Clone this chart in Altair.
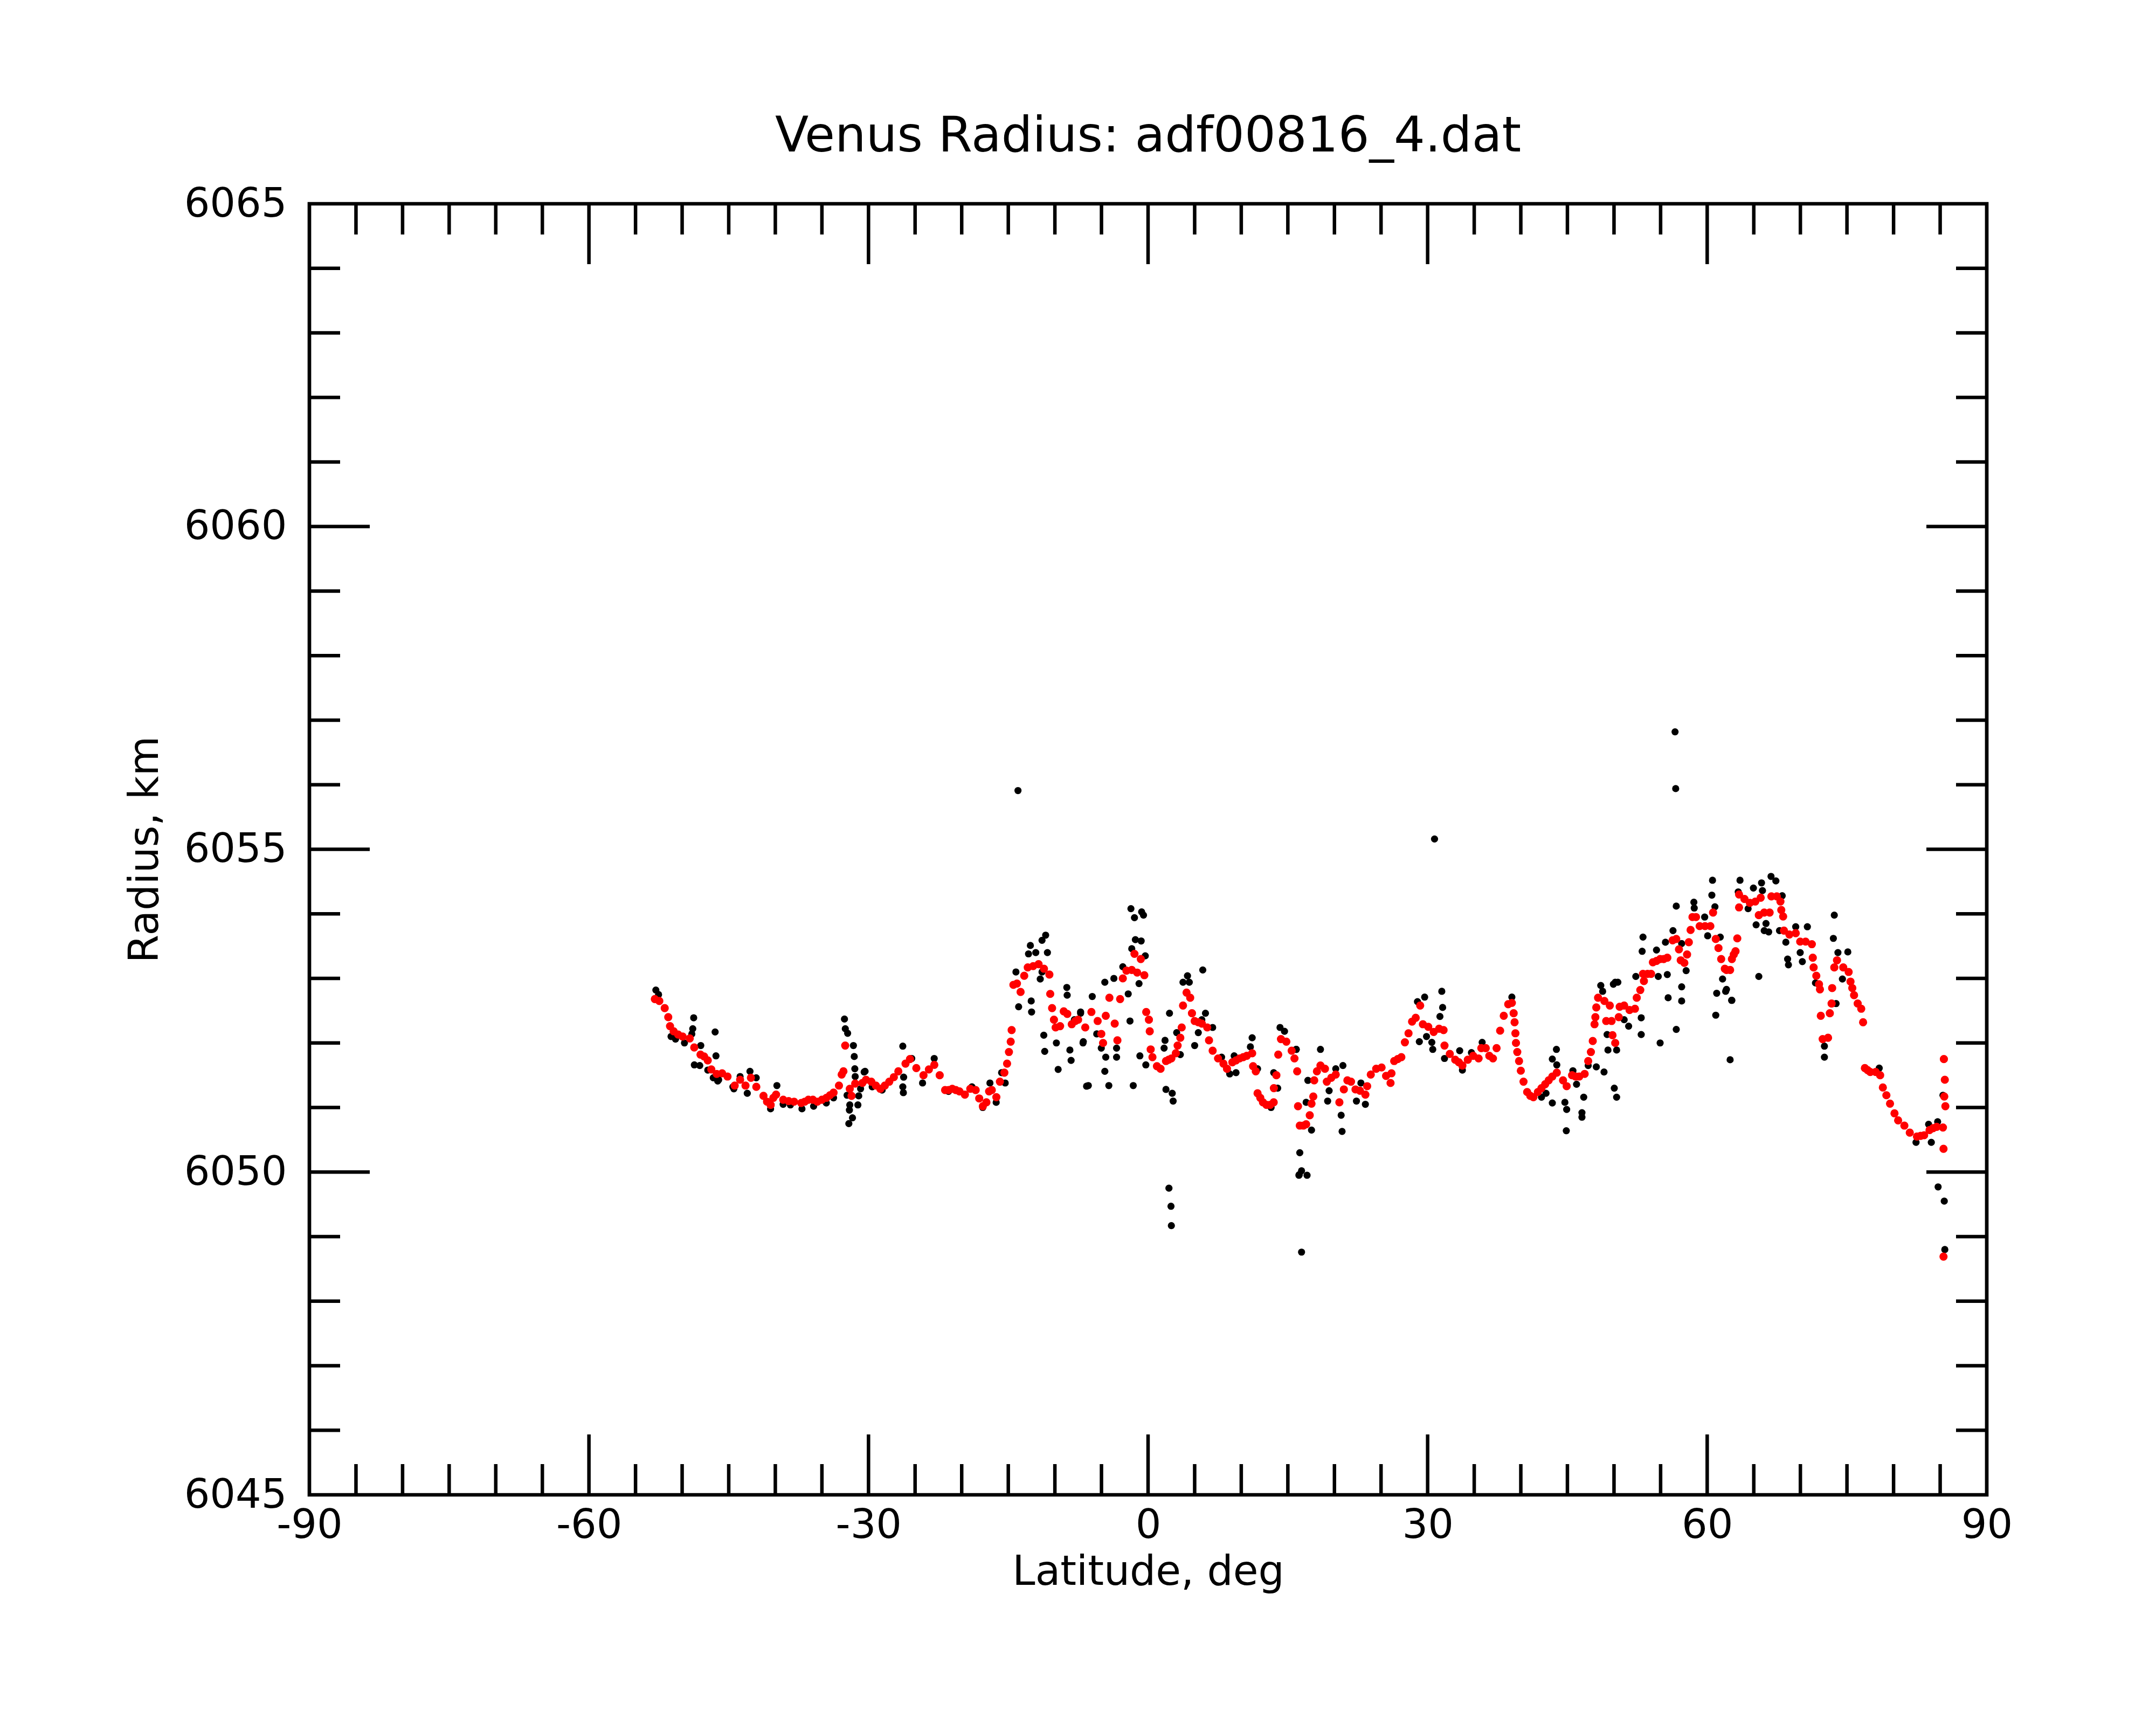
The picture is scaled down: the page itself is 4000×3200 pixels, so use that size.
import altair as alt
import pandas as pd

# ---- smoothed (red) profile: latitude, radius ----
red_lat = [
    -52.93, -52.45, -51.87, -51.49, -51.30, -50.91, -50.43, -49.95, -49.18, -48.70,
    -48.03, -47.64, -47.25, -46.87, -46.29, -45.71, -45.13, -44.36, -43.78, -43.20,
    -42.62, -42.04, -41.27, -40.89, -40.50, -40.21, -39.92, -39.15, -38.57, -37.99,
    -37.22, -36.84, -36.45, -35.97, -35.49, -35.00, -34.52, -34.14, -33.75, -33.17,
    -32.88, -32.69, -32.50, -32.01, -31.82, -31.43, -30.66, -30.27, -29.70, -29.21,
    -28.73, -28.25, -27.77, -27.28, -26.80, -26.03, -25.55, -24.87, -24.10, -23.52,
    -22.94, -22.36, -21.78, -21.40, -21.01, -20.63, -20.24, -19.66, -19.08, -18.50,
    -18.12, -17.73, -17.35, -17.06, -16.77, -16.28, -15.90, -15.42, -15.13, -14.93,
    -14.74, -14.64, -14.45, -14.07, -13.68, -13.29, -12.91, -12.33, -11.75, -11.17,
    -10.59, -10.50, -10.30, -10.10, -9.92, -9.44, -9.05, -8.67, -8.19, -7.81,
    -7.51, -6.74, -6.08, -5.41, -5.02, -4.83, -4.54, -4.15, -3.58, -3.29,
    -3.00, -2.71, -2.32, -1.75, -1.46, -1.17, -0.78, -0.40, -0.20, 0.09,
    0.18, 0.28, 0.47, 0.95, 1.34, 1.92, 2.21, 2.50, 2.98, 3.17,
    3.46, 3.61, 3.75, 4.13, 4.52, 4.71, 5.00, 5.39, 5.77, 6.35,
    6.54, 6.93, 7.51, 8.09, 8.47, 9.05, 9.44, 9.82, 10.21, 10.59,
    11.17, 11.27, 11.56, 11.75, 12.04, 12.33, 12.71, 13.10, 13.48, 13.50,
    13.77, 13.97, 14.26, 14.84, 15.41, 15.71, 16.00, 16.09, 16.28, 16.67,
    16.96, 17.35, 17.54, 17.73, 17.83, 18.12, 18.50, 18.98, 19.18, 19.66,
    20.14, 20.53, 21.01, 21.39, 21.78, 22.26, 22.74, 23.32, 23.51, 23.90,
    24.48, 25.06, 25.54, 26.02, 26.12, 26.41, 26.79, 27.18, 27.56, 27.95,
    28.33, 28.72, 29.20, 29.49, 30.07, 30.65, 31.23, 31.71, 31.81, 32.38,
    32.96, 33.35, 33.73, 34.31, 34.89, 35.47, 35.76, 36.24, 36.62, 37.01,
    37.40, 37.78, 38.17, 38.65, 39.04, 39.23, 39.33, 39.42, 39.48, 39.62,
    39.81, 40.00, 40.29, 40.68, 41.02, 41.35, 41.83, 42.22, 42.61, 42.99,
    43.38, 43.86, 44.53, 44.92, 45.50, 45.88, 46.27, 46.85, 47.23, 47.52,
    47.72, 47.91, 48.00, 48.10, 48.29, 48.97, 49.16, 49.55, 49.74, 49.84,
    50.13, 50.51, 50.61, 51.09, 51.67, 52.25, 52.44, 52.82, 53.11, 53.21,
    53.60, 53.98, 54.17, 54.56, 54.95, 55.33, 55.72, 56.29, 56.68, 56.97,
    57.16, 57.55, 57.84, 58.03, 58.22, 58.42, 58.80, 59.19, 59.77, 60.34,
    60.63, 60.92, 61.21, 61.50, 61.89, 62.07, 62.46, 62.65, 62.85, 63.04,
    63.23, 63.42, 63.42, 64.00, 64.58, 65.16, 65.54, 65.74, 66.12, 66.70,
    66.89, 67.47, 67.86, 67.95, 68.15, 68.24, 68.82, 69.50, 69.98, 70.56,
    71.23, 71.33, 71.42, 71.71, 72.00, 72.10, 72.19, 72.39, 72.97, 73.16,
    73.35, 73.41, 73.64, 73.93, 74.60, 75.18, 75.38, 75.57, 75.76, 76.15,
    76.53, 76.73, 76.92, 77.21, 77.50, 78.08, 78.56, 78.85, 79.23, 79.62,
    80.10, 80.49, 81.16, 81.74, 82.51, 82.90, 83.28, 83.86, 84.24, 84.63,
    85.30, 85.40, 85.50, 85.44, 85.56, 85.36, 85.36,
]
red_r = [
    6052.68, 6052.65, 6052.54, 6052.40, 6052.26, 6052.18, 6052.13, 6052.10, 6052.07, 6051.93,
    6051.82, 6051.79, 6051.73, 6051.59, 6051.52, 6051.53, 6051.48, 6051.34, 6051.43, 6051.34,
    6051.46, 6051.32, 6051.18, 6051.09, 6051.04, 6051.15, 6051.20, 6051.12, 6051.10, 6051.09,
    6051.07, 6051.09, 6051.12, 6051.12, 6051.09, 6051.12, 6051.15, 6051.19, 6051.23, 6051.34,
    6051.51, 6051.56, 6051.96, 6051.29, 6051.18, 6051.37, 6051.38, 6051.43, 6051.40, 6051.34,
    6051.29, 6051.34, 6051.40, 6051.47, 6051.56, 6051.68, 6051.75, 6051.61, 6051.50, 6051.59,
    6051.66, 6051.50, 6051.27, 6051.27, 6051.29, 6051.27, 6051.25, 6051.20, 6051.29, 6051.27,
    6051.14, 6051.02, 6051.08, 6051.25, 6051.27, 6051.16, 6051.40, 6051.54, 6051.68, 6051.86,
    6052.02, 6052.20, 6052.90, 6052.92, 6052.79, 6053.04, 6053.17, 6053.19, 6053.22, 6053.15,
    6053.06, 6052.76, 6052.54, 6052.36, 6052.24, 6052.26, 6052.49, 6052.45, 6052.29, 6052.34,
    6052.36, 6052.24, 6052.48, 6052.34, 6052.14, 6052.00, 6052.42, 6052.70, 6052.30, 6052.04,
    6052.68, 6053.00, 6053.12, 6053.13, 6053.38, 6053.09, 6053.30, 6053.05, 6052.48, 6052.36,
    6052.18, 6051.90, 6051.78, 6051.64, 6051.60, 6051.72, 6051.74, 6051.76, 6051.84, 6051.96,
    6052.08, 6052.24, 6052.58, 6052.78, 6052.70, 6052.46, 6052.34, 6052.32, 6052.30, 6052.24,
    6052.04, 6051.88, 6051.76, 6051.68, 6051.60, 6051.70, 6051.73, 6051.76, 6051.78, 6051.80,
    6051.84, 6051.64, 6051.56, 6051.22, 6051.15, 6051.08, 6051.04, 6051.04, 6051.08, 6051.30,
    6051.50, 6051.82, 6052.06, 6052.02, 6051.88, 6051.76, 6051.56, 6051.02, 6050.72, 6050.72,
    6050.74, 6050.88, 6051.06, 6051.17, 6051.42, 6051.56, 6051.65, 6051.60, 6051.40, 6051.46,
    6051.51, 6051.08, 6051.28, 6051.42, 6051.40, 6051.28, 6051.26, 6051.20, 6051.33, 6051.51,
    6051.60, 6051.62, 6051.49, 6051.38, 6051.53, 6051.72, 6051.75, 6051.78, 6052.01, 6052.15,
    6052.33, 6052.39, 6052.58, 6052.29, 6052.25, 6052.17, 6052.22, 6052.20, 6051.96, 6051.83,
    6051.74, 6051.70, 6051.65, 6051.74, 6051.80, 6051.76, 6051.92, 6051.92, 6051.80, 6051.76,
    6051.92, 6052.19, 6052.42, 6052.60, 6052.62, 6052.46, 6052.32, 6052.15, 6052.00, 6051.86,
    6051.72, 6051.57, 6051.40, 6051.24, 6051.18, 6051.16, 6051.24, 6051.30, 6051.36, 6051.42,
    6051.48, 6051.54, 6051.42, 6051.33, 6051.50, 6051.48, 6051.48, 6051.52, 6051.72, 6051.86,
    6052.03, 6052.29, 6052.40, 6052.55, 6052.70, 6052.65, 6052.34, 6052.58, 6052.34, 6052.12,
    6052.00, 6052.40, 6052.56, 6052.58, 6052.51, 6052.53, 6052.70, 6052.82, 6053.07, 6052.96,
    6053.07, 6053.07, 6053.25, 6053.27, 6053.30, 6053.30, 6053.32, 6053.59, 6053.61, 6053.45,
    6053.28, 6053.24, 6053.37, 6053.56, 6053.75, 6053.95, 6053.95, 6053.81, 6053.81, 6053.81,
    6054.02, 6053.61, 6053.47, 6053.30, 6053.15, 6053.13, 6053.13, 6053.30, 6053.37, 6053.42,
    6053.62, 6054.30, 6054.10, 6054.23, 6054.17, 6054.19, 6053.98, 6054.25, 6054.02, 6054.02,
    6054.27, 6054.27, 6054.19, 6054.06, 6053.96, 6053.74, 6053.68, 6053.70, 6053.57, 6053.57,
    6053.53, 6053.32, 6053.17, 6053.04, 6052.91, 6052.83, 6052.42, 6052.06, 6052.08, 6052.46,
    6052.61, 6052.85, 6053.17, 6053.28, 6053.17, 6053.10, 6052.95, 6052.85, 6052.74, 6052.61,
    6052.53, 6052.32, 6051.61, 6051.58, 6051.55, 6051.55, 6051.50, 6051.31, 6051.19, 6051.06,
    6050.91, 6050.80, 6050.72, 6050.61, 6050.55, 6050.56, 6050.57, 6050.65, 6050.68, 6050.70,
    6050.69, 6051.75, 6051.43, 6051.17, 6051.02, 6050.36, 6048.69,
]

# ---- raw (black) measurements: latitude, radius ----
blk_lat = [
    -52.82, -52.53, -51.19, -50.71, -49.75, -48.96, -48.86, -48.76, -48.69, -48.11,
    -48.00, -47.25, -46.66, -46.46, -46.37, -46.18, -46.08, -44.55, -44.45, -43.78,
    -43.01, -42.72, -42.05, -40.51, -39.83, -39.16, -38.38, -37.14, -35.89, -34.53,
    -33.75, -32.58, -32.49, -32.30, -32.24, -32.11, -32.05, -32.01, -31.72, -31.62,
    -31.53, -31.47, -31.43, -31.14, -31.05, -30.85, -30.47, -30.37, -29.60, -28.54,
    -26.32, -26.32, -26.26, -26.23, -25.36, -24.20, -22.95, -21.41, -18.90, -17.74,
    -16.97, -16.30, -15.72, -15.33, -14.18, -13.96, -13.89, -12.83, -12.63, -12.54,
    -12.50, -12.05, -11.57, -11.38, -11.38, -11.19, -11.09, -10.99, -10.80, -9.84,
    -9.65, -8.72, -8.68, -8.39, -8.26, -7.91, -7.24, -7.24, -6.98, -6.95,
    -6.60, -6.41, -5.99, -5.51, -5.02, -4.64, -4.64, -4.54, -4.21, -3.67,
    -3.38, -3.38, -2.71, -2.13, -1.94, -1.84, -1.75, -1.59, -1.46, -1.36,
    -0.97, -0.88, -0.74, -0.69, -0.49, -0.30, -0.24, 1.72, 1.82, 1.92,
    2.24, 2.30, 2.46, 2.50, 2.59, 2.69, 3.07, 3.46, 3.75, 4.23,
    4.42, 5.00, 5.39, 5.77, 5.87, 6.16, 6.93, 7.89, 8.76, 9.24,
    9.44, 10.98, 11.17, 11.75, 13.20, 13.48, 13.91, 14.16, 14.64, 15.90,
    15.90, 16.19, 16.22, 16.28, 16.47, 16.47, 16.96, 17.06, 17.15, 17.54,
    18.50, 19.27, 19.43, 20.14, 20.72, 20.82, 20.91, 22.36, 22.84, 23.32,
    28.91, 29.11, 29.68, 29.88, 30.45, 30.55, 30.74, 31.32, 31.52, 31.61,
    31.81, 33.44, 33.73, 34.70, 35.85, 39.04, 42.22, 42.70, 43.38, 43.38,
    43.82, 43.86, 44.73, 44.88, 44.92, 45.59, 45.98, 46.56, 46.56, 46.75,
    47.23, 48.10, 48.58, 48.78, 48.93, 49.26, 49.35, 49.93, 50.03, 50.13,
    50.28, 50.28, 50.41, 51.09, 51.57, 52.34, 52.92, 52.92, 53.02, 53.11,
    54.56, 54.75, 54.95, 55.52, 55.72, 55.81, 56.33, 56.55, 56.62, 56.68,
    56.68, 57.26, 57.26, 57.26, 57.74, 58.57, 58.61, 59.73, 60.05, 60.50,
    60.57, 60.83, 60.92, 61.02, 61.40, 61.65, 61.98, 62.07, 62.46, 62.62,
    62.65, 63.33, 63.52, 64.39, 64.96, 65.25, 65.54, 65.83, 65.93, 66.12,
    66.31, 66.60, 66.85, 67.37, 67.76, 68.05, 68.44, 68.63, 68.72, 69.50,
    69.98, 70.21, 70.75, 71.62, 72.58, 72.58, 73.54, 73.64, 73.83, 74.03,
    74.51, 75.09, 78.46, 82.41, 83.76, 84.05, 84.73, 84.78, 85.30, 85.44,
    85.50,
]
blk_r = [
    6052.82, 6052.75, 6052.10, 6052.06, 6052.00, 6052.14, 6052.22, 6052.39, 6051.66, 6051.65,
    6051.96, 6051.58, 6051.46, 6052.17, 6051.80, 6051.41, 6051.43, 6051.32, 6051.29, 6051.48,
    6051.22, 6051.56, 6051.46, 6050.98, 6051.34, 6051.05, 6051.04, 6050.98, 6051.02, 6051.07,
    6051.15, 6052.37, 6052.22, 6051.19, 6052.15, 6050.75, 6050.96, 6051.04, 6050.84, 6051.96,
    6051.79, 6051.60, 6051.48, 6051.04, 6051.18, 6051.29, 6051.55, 6051.56, 6051.32, 6051.27,
    6051.95, 6051.32, 6051.23, 6051.47, 6051.76, 6051.38, 6051.76, 6051.25, 6051.32, 6051.00,
    6051.38, 6051.08, 6051.54, 6051.38, 6053.10, 6055.91, 6052.56, 6053.38, 6053.51, 6052.65,
    6052.48, 6053.40, 6052.99, 6053.59, 6053.10, 6052.12, 6051.87, 6053.67, 6053.40, 6052.00,
    6051.59, 6052.86, 6052.74, 6051.89, 6051.73, 6052.36, 6052.48, 6052.46, 6052.00, 6052.02,
    6051.33, 6051.34, 6052.72, 6052.14, 6051.92, 6052.94, 6051.56, 6051.78, 6051.34, 6053.00,
    6051.78, 6051.92, 6053.18, 6052.76, 6052.34, 6054.08, 6053.46, 6051.34, 6053.94, 6053.60,
    6052.92, 6051.80, 6053.58, 6054.03, 6053.98, 6053.35, 6051.66, 6051.92, 6052.04, 6051.28,
    6049.75, 6052.46, 6049.47, 6049.17, 6051.22, 6051.10, 6052.16, 6051.82, 6052.94, 6053.04,
    6052.94, 6051.96, 6052.16, 6052.36, 6053.13, 6052.46, 6052.24, 6051.78, 6051.52, 6051.80,
    6051.54, 6051.94, 6052.08, 6051.60, 6051.00, 6051.54, 6051.30, 6052.24, 6052.18, 6051.90,
    6051.90, 6049.95, 6049.96, 6050.30, 6050.02, 6048.76, 6051.08, 6049.95, 6051.42, 6050.65,
    6051.90, 6051.10, 6051.26, 6051.60, 6050.88, 6050.63, 6051.65, 6051.10, 6051.38, 6051.05,
    6052.64, 6052.02, 6052.71, 6052.10, 6052.01, 6051.90, 6055.16, 6052.41, 6052.80, 6052.55,
    6051.76, 6051.88, 6051.58, 6051.85, 6052.01, 6052.71, 6051.16, 6051.22, 6051.75, 6051.07,
    6051.90, 6051.66, 6051.08, 6050.64, 6050.97, 6051.57, 6051.36, 6050.92, 6050.85, 6051.16,
    6051.65, 6051.63, 6052.89, 6052.80, 6051.55, 6052.13, 6051.89, 6052.91, 6051.30, 6052.94,
    6051.89, 6051.16, 6052.94, 6052.36, 6052.26, 6053.03, 6052.39, 6052.13, 6053.42, 6053.64,
    6053.44, 6053.03, 6052.00, 6053.56, 6053.06, 6052.70, 6053.74, 6056.82, 6055.94, 6054.12,
    6052.21, 6053.54, 6052.87, 6052.65, 6053.12, 6054.18, 6054.09, 6053.95, 6053.66, 6054.29,
    6054.52, 6054.11, 6052.43, 6052.77, 6053.64, 6052.99, 6052.80, 6052.83, 6051.74, 6052.66,
    6052.66, 6054.34, 6054.52, 6054.08, 6054.40, 6053.83, 6053.03, 6054.48, 6054.36, 6053.74,
    6053.85, 6053.72, 6054.58, 6054.51, 6053.74, 6054.28, 6053.56, 6053.30, 6053.21, 6053.80,
    6053.40, 6053.26, 6053.80, 6052.93, 6051.95, 6051.78, 6053.62, 6053.98, 6052.61, 6053.40,
    6052.99, 6053.41, 6051.61, 6050.46, 6050.74, 6050.46, 6050.78, 6049.77, 6051.19, 6049.55,
    6048.80,
]

# ---- axis tick values ----
x_labels = [-90, -60, -30, 0, 30, 60, 90]
x_major = [-60, -30, 0, 30, 60]
x_minor = [-85, -80, -75, -70, -65, -55, -50, -45, -40, -35, -25, -20, -15, -10, -5,
           5, 10, 15, 20, 25, 35, 40, 45, 50, 55, 65, 70, 75, 80, 85]
y_labels = [6045, 6050, 6055, 6060, 6065]
y_major = [6050, 6055, 6060]
y_minor = [6046, 6047, 6048, 6049, 6051, 6052, 6053, 6054, 6056, 6057, 6058, 6059,
           6061, 6062, 6063, 6064]

W, H = 3112, 2395
FONT = "DejaVu Sans"
MAJ, MIN = 112, 57
TW = 6.5

red_df = pd.DataFrame({"lat": red_lat, "r": red_r})
blk_df = pd.DataFrame({"lat": blk_lat, "r": blk_r})

xscale = alt.Scale(domain=[-90, 90], nice=False, zero=False)
yscale = alt.Scale(domain=[6045, 6065], nice=False, zero=False)

xaxis = alt.Axis(
    values=x_labels, ticks=False, domain=False, grid=False,
    labelFont=FONT, labelFontSize=75, labelColor="black", labelLimit=0,
    labelBaseline="alphabetic", labelPadding=79, labelFlush=False,
    labelOverlap=False, labelBound=False,
    labelExpr="'' + datum.value",
    title="Latitude, deg", titleFont=FONT, titleFontSize=76,
    titleFontWeight="normal", titleColor="black",
    titleBaseline="alphabetic", titleY=166, titleX=W / 2,
)
yaxis = alt.Axis(
    values=y_labels, ticks=False, domain=False, grid=False,
    labelFont=FONT, labelFontSize=75, labelColor="black", labelLimit=0,
    labelBaseline="middle", labelPadding=42, labelFlush=False,
    labelOverlap=False, labelBound=False,
    labelExpr="'' + datum.value",
    title="Radius, km", titleFont=FONT, titleFontSize=76,
    titleFontWeight="normal", titleColor="black",
    titleAngle=270, titleAlign="center", titleBaseline="alphabetic",
    titleX=-282, titleY=H / 2,
)

black = alt.Chart(blk_df).mark_circle(size=175, color="black", opacity=1).encode(
    x=alt.X("lat:Q", scale=xscale, axis=xaxis),
    y=alt.Y("r:Q", scale=yscale, axis=yaxis),
)
red = alt.Chart(red_df).mark_circle(size=230, color="#ff0000", opacity=1).encode(
    x=alt.X("lat:Q", scale=xscale, axis=xaxis),
    y=alt.Y("r:Q", scale=yscale, axis=yaxis),
)


def xticks(vals, length):
    df = pd.DataFrame({"v": vals})
    base = alt.Chart(df).mark_rule(color="black", strokeWidth=TW)
    bottom = base.encode(x=alt.X("v:Q", scale=xscale, axis=xaxis),
                         y=alt.value(H), y2=alt.value(H - length))
    top = base.encode(x=alt.X("v:Q", scale=xscale, axis=xaxis),
                      y=alt.value(0), y2=alt.value(length))
    return [bottom, top]


def yticks(vals, length):
    df = pd.DataFrame({"v": vals})
    base = alt.Chart(df).mark_rule(color="black", strokeWidth=TW)
    left = base.encode(y=alt.Y("v:Q", scale=yscale, axis=yaxis),
                       x=alt.value(0), x2=alt.value(length))
    right = base.encode(y=alt.Y("v:Q", scale=yscale, axis=yaxis),
                        x=alt.value(W), x2=alt.value(W - length))
    return [left, right]


layers = (xticks(x_minor, MIN) + xticks(x_major, MAJ)
          + yticks(y_minor, MIN) + yticks(y_major, MAJ) + [black, red])

chart = alt.layer(*layers).properties(
    width=W, height=H,
    background="white",
    autosize=alt.AutoSizeParams(type="none"),
    padding={"left": 566, "top": 370, "right": 306, "bottom": 411},
    title=alt.TitleParams(
        "Venus Radius: adf00816_4.dat", font=FONT, fontSize=91,
        fontWeight="normal", color="black", anchor="middle",
        baseline="alphabetic", offset=-31,
    ),
).configure_view(stroke="black", strokeWidth=6.7)

chart.save("out.html", embed_options={"renderer": "svg", "actions": False})
